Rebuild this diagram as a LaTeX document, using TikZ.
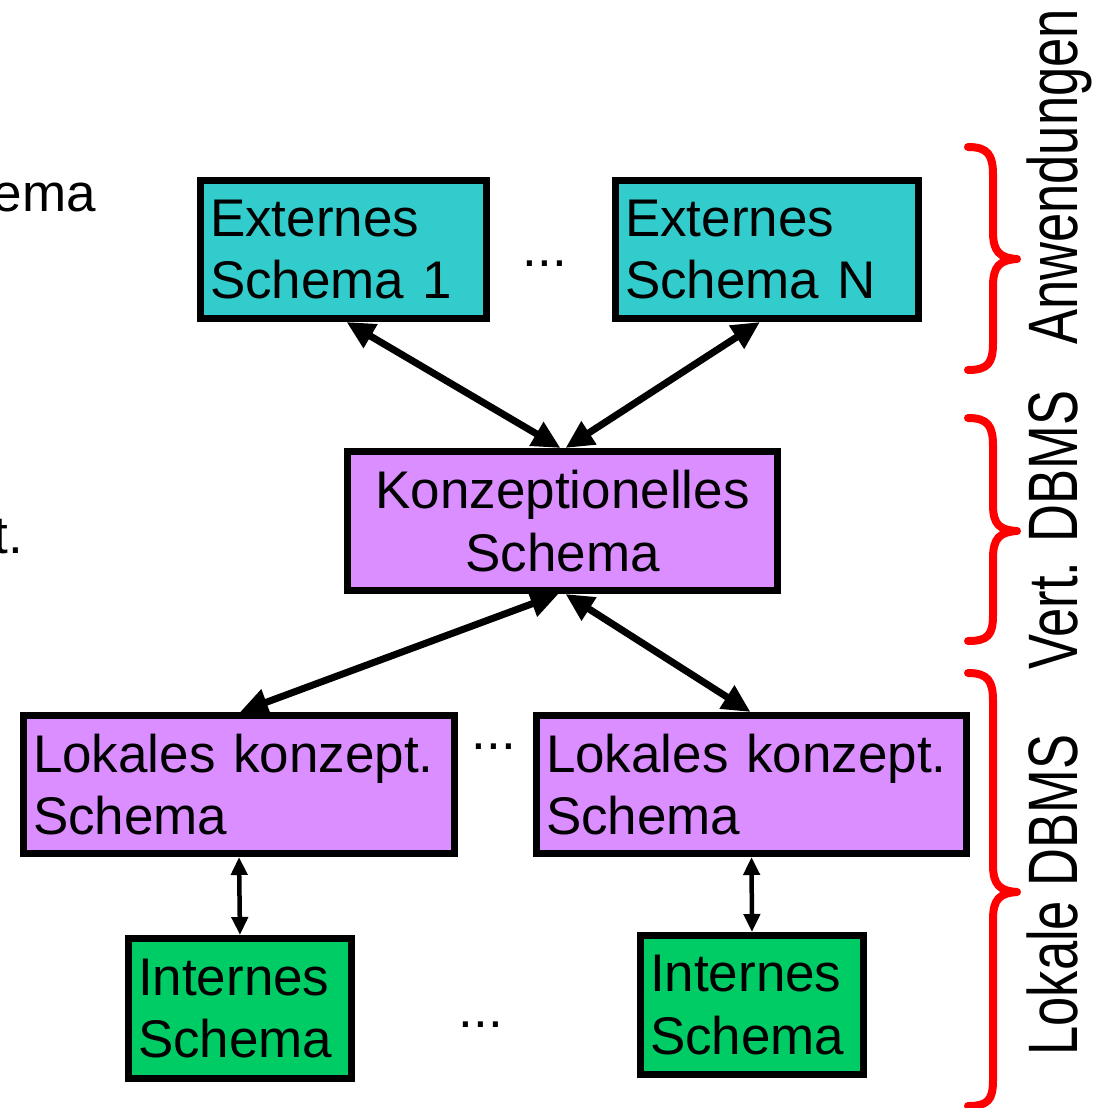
\documentclass[tikz,border=0pt]{standalone}
\usepackage{fontspec}
\usepackage{graphicx}
\setmainfont{Liberation Sans}
\usetikzlibrary{arrows.meta}
\definecolor{cyanbox}{HTML}{33CCCC}
\definecolor{purplebox}{HTML}{DA8EFF}
\definecolor{greenbox}{HTML}{00CC66}
\definecolor{bracered}{HTML}{FF0000}
\begin{document}
\begin{tikzpicture}[x=1pt,y=-1pt,
  box/.style={draw=black, line width=7pt, inner xsep=9.5pt, inner ysep=0pt,
    font=\fontsize{53}{62.5}\selectfont, align=left},
  bigarrow/.style={line width=7pt, {Triangle[length=28pt,width=26pt]}-{Triangle[length=28pt,width=26pt]}},
  smallarrow/.style={line width=4.5pt, {Triangle[length=18pt,width=16pt]}-{Triangle[length=18pt,width=16pt]}},
  bracestyle/.style={draw=bracered, line width=8pt, line cap=round, line join=round},
  sidelabel/.style={rotate=90, anchor=base, inner sep=0pt, font=\fontsize{70}{70}\selectfont},
  plain/.style={inner sep=0pt, font=\fontsize{53}{62.5}\selectfont}]
\useasboundingbox (0,0) rectangle (1099,1108);

% boxes
\node[box, fill=cyanbox, text width=267pt, minimum height=138pt] (ext1) at (343.5,249.5) {Externes\\Schema 1};
\node[box, fill=cyanbox, text width=284pt, minimum height=138pt] (extN) at (767,249.5) {Externes\\Schema N};
\node[box, fill=purplebox, text width=411pt, minimum height=139pt, align=center] (konz) at (562.5,521) {Konzeptionelles\\Schema};
\node[box, fill=purplebox, text width=412pt, minimum height=138pt] (lok1) at (239,784.5) {Lokales konzept.\\Schema};
\node[box, fill=purplebox, text width=411pt, minimum height=138pt] (lok2) at (751.5,784.5) {Lokales konzept.\\Schema};
\node[box, fill=greenbox, text width=204pt, minimum height=140pt] (int1) at (240,1008.5) {Internes\\Schema};
\node[box, fill=greenbox, text width=204pt, minimum height=139pt] (int2) at (752,1005) {Internes\\Schema};

% dots
\node[plain, anchor=base] (dots1) at (545,266) {...};
\node[plain, anchor=base] (dots2) at (494,749) {...};
\node[plain, anchor=base] (dots3) at (481,1027) {...};

% cut-off texts at left
\node[plain, anchor=base east] (cut1) at (96,211) {ema};
\node[plain, anchor=base east] (cut2) at (23,553) {t.};

% connectors
\draw[bigarrow] ([xshift=3pt]ext1.south) -- ([xshift=-2pt]konz.north);
\draw[bigarrow] ([xshift=-7pt]extN.south) -- ([xshift=3pt]konz.north);
\draw[bigarrow] ([xshift=-4pt]konz.south) -- ([xshift=1pt]lok1.north);
\draw[bigarrow] ([xshift=3pt]konz.south) -- ([xshift=-1pt]lok2.north);
\draw[smallarrow] (lok1.south) -- (int1.north);
\draw[smallarrow] (lok2.south) -- (int2.north);

% braces
\draw[bracestyle] (968,147) .. controls (988,147) and (993,155) .. (993,175) -- (993,232)
  .. controls (993,252) and (1000,258) .. (1017,259)
  .. controls (1000,260) and (993,266) .. (993,286) -- (993,343)
  .. controls (993,363) and (988,370) .. (968,370);
\draw[bracestyle] (968,418) .. controls (988,418) and (993,426) .. (993,446) -- (993,505)
  .. controls (993,525) and (1000,530) .. (1017,531)
  .. controls (1000,532) and (993,538) .. (993,558) -- (993,615)
  .. controls (993,635) and (988,641) .. (968,641);
\draw[bracestyle] (968,673) .. controls (988,673) and (993,681) .. (993,701) -- (993,865)
  .. controls (993,885) and (1000,891) .. (1017,892)
  .. controls (1000,893) and (993,899) .. (993,919) -- (993,1080)
  .. controls (993,1100) and (988,1106) .. (968,1106);

% side labels
\node[sidelabel] (lab1) at (1077,177) {\scalebox{0.75}[1]{Anwendungen}};
\node[sidelabel] (lab2) at (1077,530) {\scalebox{0.75}[1]{Vert. DBMS}};
\node[sidelabel] (lab3) at (1077,895) {\scalebox{0.75}[1]{Lokale DBMS}};
\end{tikzpicture}
\end{document}
